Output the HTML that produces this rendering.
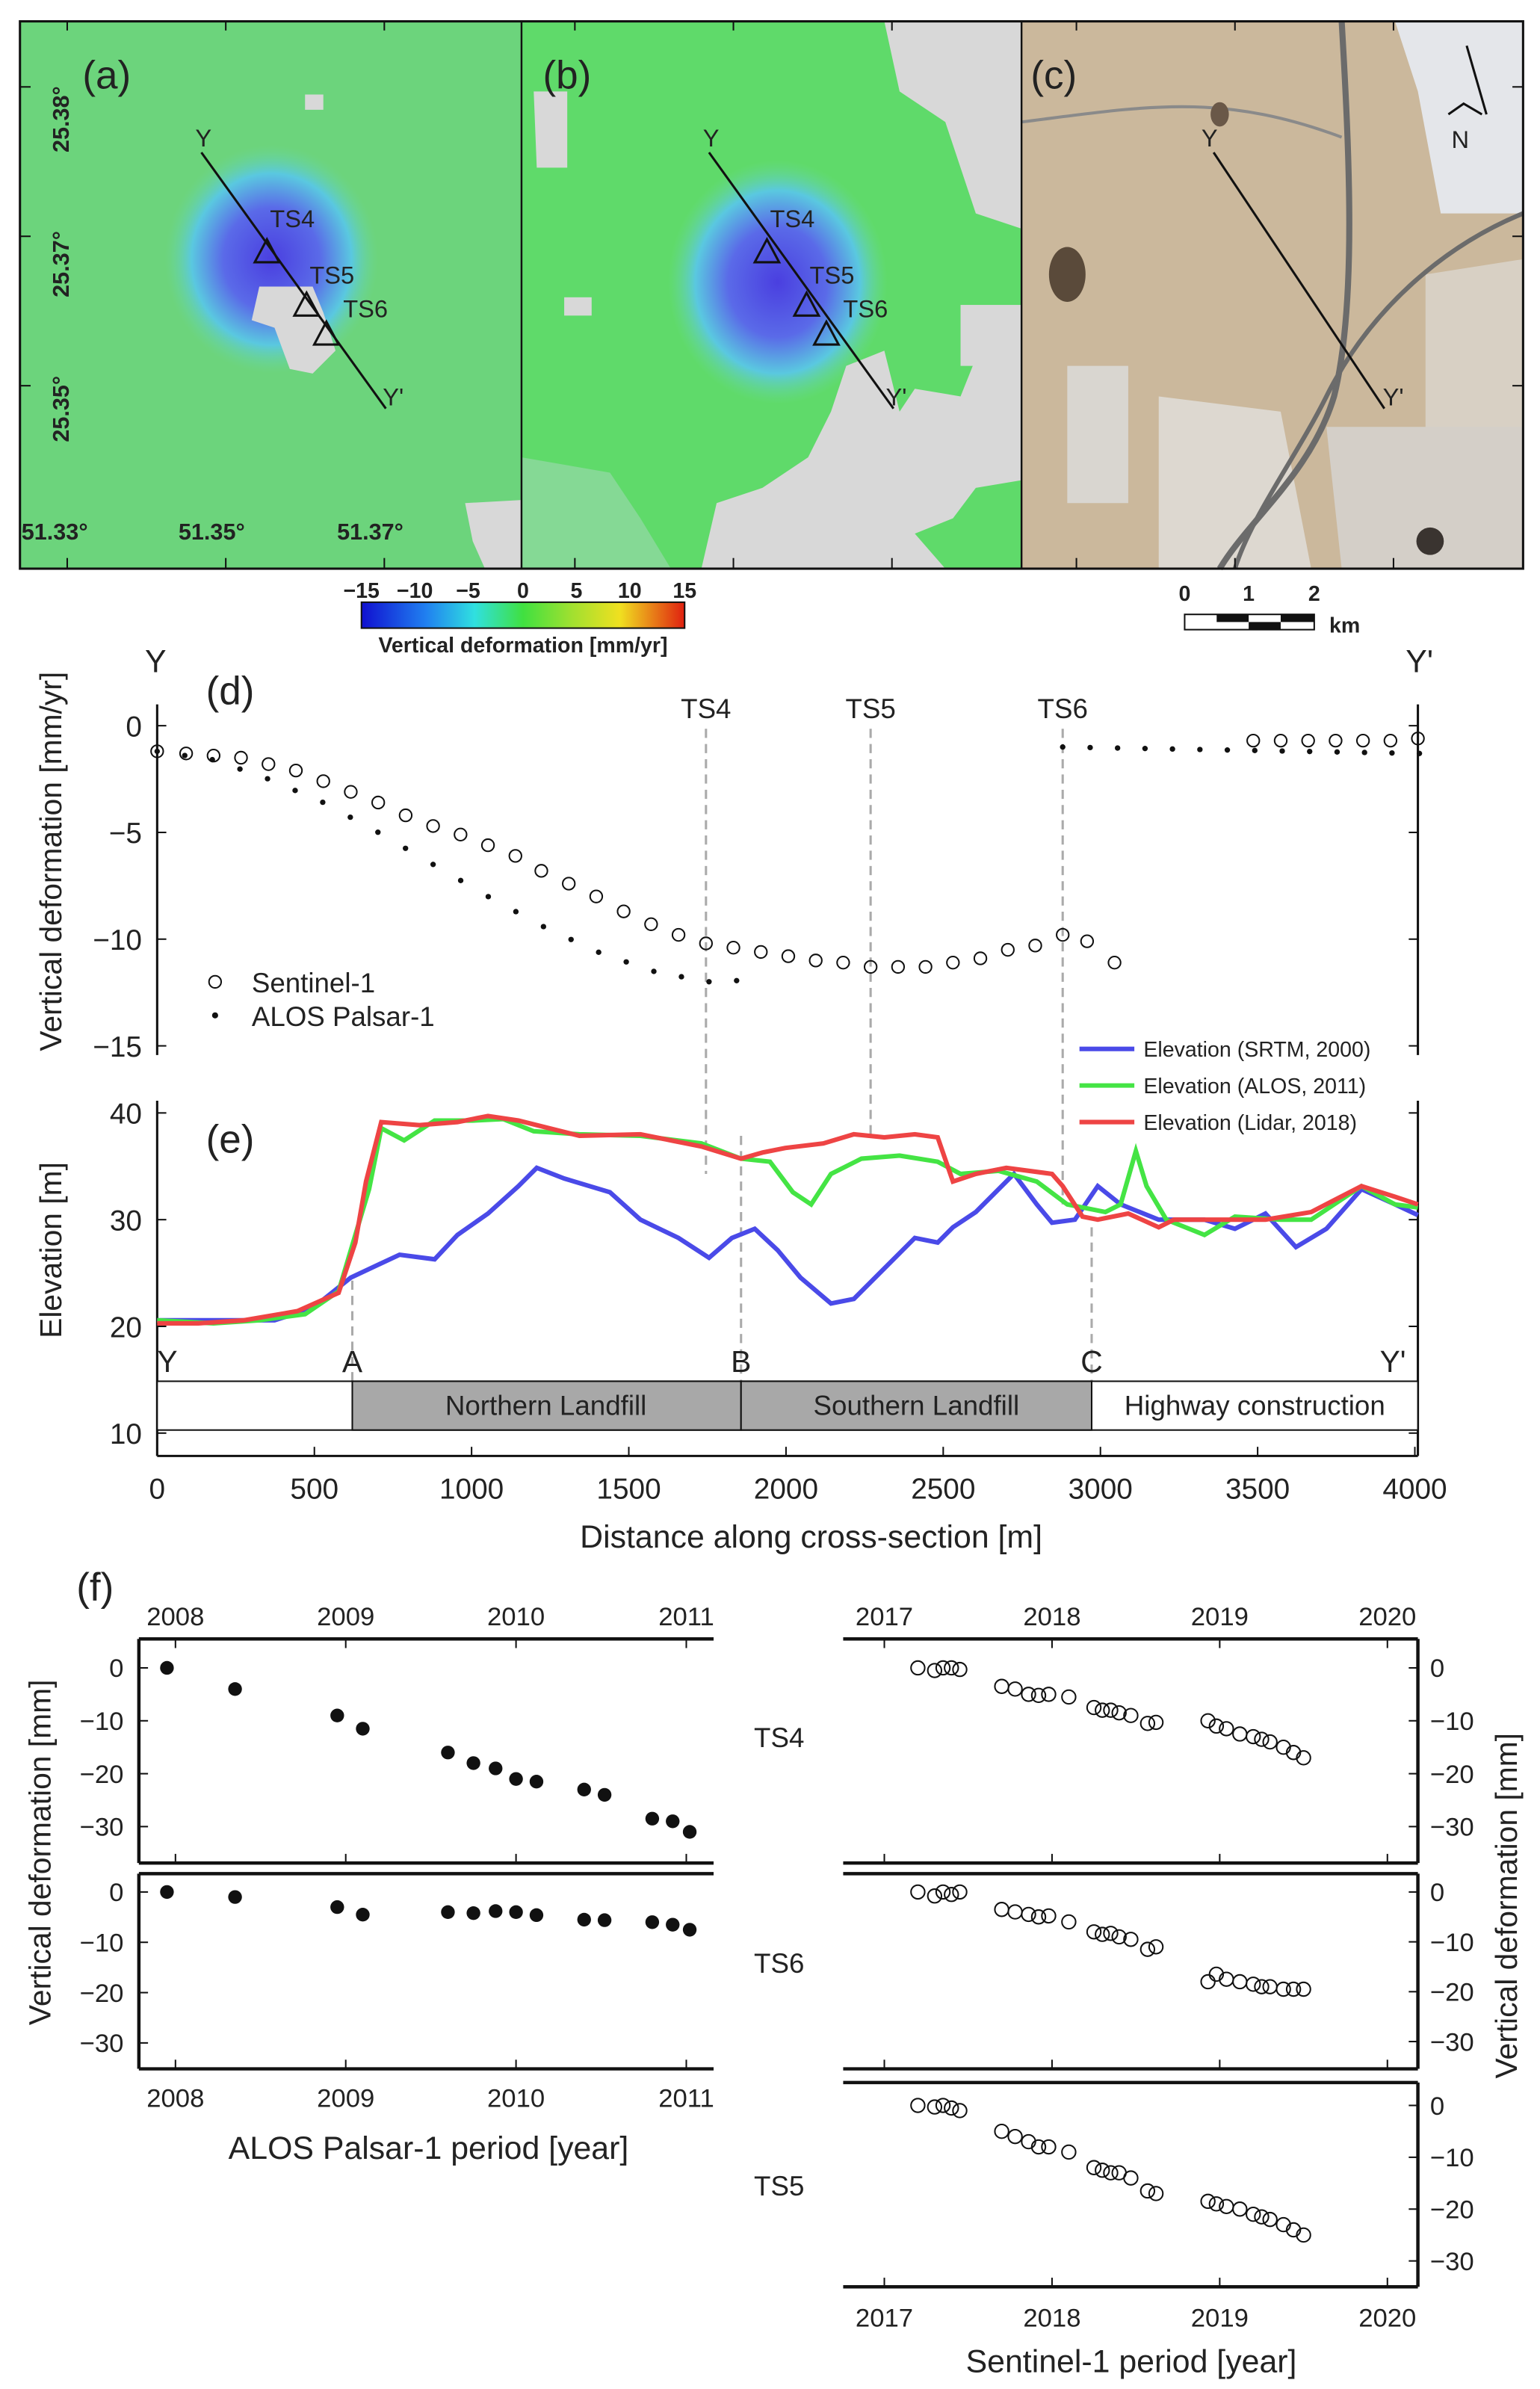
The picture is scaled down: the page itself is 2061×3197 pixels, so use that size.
<!DOCTYPE html>
<html><head><meta charset="utf-8"><style>
html,body{margin:0;padding:0;background:#fff}
svg{display:block}
text{font-family:"Liberation Sans",sans-serif;fill:#222}
</style></head><body>
<svg id="s" xmlns="http://www.w3.org/2000/svg" width="2061" height="3197" viewBox="0 0 1010 1567">
<defs>
<radialGradient id="blobA" cx="0.5" cy="0.5" r="0.5">
<stop offset="0" stop-color="#4a3fe0"/><stop offset="0.45" stop-color="#5a6ae8"/><stop offset="0.75" stop-color="#5ac8e0"/><stop offset="1" stop-color="#6ad89a" stop-opacity="0"/>
</radialGradient>
<linearGradient id="cb" x1="0" x2="1">
<stop offset="0" stop-color="#1010d0"/><stop offset="0.2" stop-color="#2080f0"/><stop offset="0.35" stop-color="#30e0e0"/><stop offset="0.5" stop-color="#40e040"/><stop offset="0.65" stop-color="#a0e030"/><stop offset="0.8" stop-color="#f0e020"/><stop offset="1" stop-color="#e02010"/>
</linearGradient>
</defs>
<!-- Map a -->
<rect x="13" y="14" width="329" height="359" fill="#6cd47c"/>
<ellipse cx="178" cy="170" rx="70" ry="75" fill="url(#blobA)"/>
<path d="M170 188 L205 188 L212 205 L220 230 L205 245 L190 242 L180 215 L165 210 Z" fill="#d8d8d8"/>
<rect x="200" y="62" width="12" height="10" fill="#d8d8d8"/>
<path d="M305 330 L342 328 L342 373 L318 373 L310 355 Z" fill="#d8d8d8"/>
<!-- Map b -->
<rect x="342" y="14" width="328" height="359" fill="#5fda6a"/>
<ellipse cx="510" cy="185" rx="72" ry="80" fill="url(#blobA)"/>
<path d="M580 14 L670 14 L670 150 L640 140 L620 80 L590 60 Z" fill="#d8d8d8"/>
<path d="M350 60 L372 60 L372 110 L352 110 Z" fill="#d8d8d8"/>
<path d="M555 240 L580 230 L590 270 L600 255 L630 260 L640 235 L670 230 L670 315 L640 320 L625 340 L600 350 L620 373 L460 373 L470 330 L500 320 L530 300 L545 270 Z" fill="#d8d8d8"/>
<path d="M342 300 L400 310 L420 340 L440 373 L342 373 Z" fill="#8fd8a0" opacity="0.8"/>
<rect x="370" y="195" width="18" height="12" fill="#d8d8d8"/>
<rect x="630" y="200" width="40" height="40" fill="#d8d8d8"/>
<!-- Map c -->
<rect x="670" y="14" width="329" height="359" fill="#cbb89c"/>
<path d="M915 14 L999 14 L999 140 L945 140 L930 60 Z" fill="#e4e6ea"/>
<path d="M935 180 L999 170 L999 300 L935 300 Z" fill="#d8d0c4"/>
<path d="M760 260 L840 270 L860 373 L760 373 Z" fill="#ddd8d0"/>
<path d="M870 280 L999 280 L999 373 L880 373 Z" fill="#d4cfc8"/>
<path d="M700 240 L740 240 L740 330 L700 330 Z" fill="#d9d6d0"/>
<path d="M880 14 C885 100 890 200 875 260 C860 310 820 340 800 373" stroke="#6b6b6b" stroke-width="4" fill="none"/>
<path d="M999 140 C950 160 900 200 870 260 C850 300 820 340 810 373" stroke="#6b6b6b" stroke-width="3" fill="none"/>
<path d="M670 80 C750 70 800 60 880 90" stroke="#8a8a8a" stroke-width="2" fill="none"/>
<ellipse cx="700" cy="180" rx="12" ry="18" fill="#5a4a3a"/>
<ellipse cx="938" cy="355" rx="9" ry="9" fill="#3a3430"/>
<ellipse cx="800" cy="75" rx="6" ry="8" fill="#6a5848"/>
<!-- borders -->
<rect x="13" y="14" width="986" height="359" fill="none" stroke="#111" stroke-width="1.5"/>
<line x1="342" y1="14" x2="342" y2="373" stroke="#111" stroke-width="1.2"/>
<line x1="670" y1="14" x2="670" y2="373" stroke="#111" stroke-width="1.2"/>
<g stroke="#111" stroke-width="1">
<line x1="13" y1="57" x2="20" y2="57"/><line x1="13" y1="155" x2="20" y2="155"/><line x1="13" y1="253" x2="20" y2="253"/>
<line x1="992" y1="57" x2="999" y2="57"/><line x1="992" y1="155" x2="999" y2="155"/><line x1="992" y1="253" x2="999" y2="253"/>
<line x1="44" y1="14" x2="44" y2="20"/><line x1="148" y1="14" x2="148" y2="20"/><line x1="252" y1="14" x2="252" y2="20"/>
<line x1="377" y1="14" x2="377" y2="20"/><line x1="481" y1="14" x2="481" y2="20"/><line x1="585" y1="14" x2="585" y2="20"/>
<line x1="44" y1="366" x2="44" y2="373"/><line x1="148" y1="366" x2="148" y2="373"/><line x1="252" y1="366" x2="252" y2="373"/>
<line x1="377" y1="366" x2="377" y2="373"/><line x1="481" y1="366" x2="481" y2="373"/><line x1="585" y1="366" x2="585" y2="373"/>
<line x1="706" y1="14" x2="706" y2="20"/><line x1="810" y1="14" x2="810" y2="20"/><line x1="914" y1="14" x2="914" y2="20"/>
<line x1="706" y1="366" x2="706" y2="373"/><line x1="810" y1="366" x2="810" y2="373"/><line x1="914" y1="366" x2="914" y2="373"/>
</g>
<g font-size="26"><text x="54" y="58">(a)</text><text x="356" y="58">(b)</text><text x="676" y="58">(c)</text></g>
<g font-size="15" font-weight="bold" fill="#111">
<text transform="translate(45,100) rotate(-90)">25.38°</text>
<text transform="translate(45,195) rotate(-90)">25.37°</text>
<text transform="translate(45,290) rotate(-90)">25.35°</text>
<text x="14" y="354">51.33°</text><text x="117" y="354">51.35°</text><text x="221" y="354">51.37°</text>
</g>
<g stroke="#111" stroke-width="1.5" fill="none">
<line x1="132" y1="100" x2="253" y2="268"/>
<line x1="465" y1="100" x2="586" y2="268"/>
<line x1="796" y1="100" x2="908" y2="268"/>
<path d="M175 157 L167 172 L183 172 Z"/><path d="M201 192 L193 207 L209 207 Z"/><path d="M214 211 L206 226 L222 226 Z"/>
<path d="M503 157 L495 172 L511 172 Z"/><path d="M529 192 L521 207 L537 207 Z"/><path d="M542 211 L534 226 L550 226 Z"/>
<path d="M962 30 L975 75 M950 75 L960 68 L972 75"/>
</g>
<g font-size="16">
<text x="128" y="96">Y</text><text x="251" y="266">Y'</text>
<text x="177" y="149">TS4</text><text x="203" y="186">TS5</text><text x="225" y="208">TS6</text>
<text x="461" y="96">Y</text><text x="581" y="266">Y'</text>
<text x="505" y="149">TS4</text><text x="531" y="186">TS5</text><text x="553" y="208">TS6</text>
<text x="788" y="96">Y</text><text x="907" y="266">Y'</text>
<text x="952" y="97">N</text>
</g>
<rect x="237" y="395" width="212" height="17" fill="url(#cb)" stroke="#111" stroke-width="1"/>
<g font-size="14" text-anchor="middle" font-weight="bold">
<text x="237" y="392">−15</text><text x="272" y="392">−10</text><text x="307" y="392">−5</text><text x="343" y="392">0</text><text x="378" y="392">5</text><text x="413" y="392">10</text><text x="449" y="392">15</text>
<text x="343" y="428">Vertical deformation [mm/yr]</text>
</g>
<rect x="777" y="403" width="85" height="10" fill="#fff" stroke="#111"/>
<rect x="798" y="403" width="21" height="5" fill="#111"/><rect x="819" y="408" width="21" height="5" fill="#111"/><rect x="840" y="403" width="22" height="5" fill="#111"/>
<g font-size="14" font-weight="bold" text-anchor="middle"><text x="777" y="394">0</text><text x="819" y="394">1</text><text x="862" y="394">2</text><text x="882" y="415">km</text></g>
<g id="de"></g>
<g id="f"></g>
</svg>
<script>
const NS="http://www.w3.org/2000/svg";
function el(p,t,a,txt){const e=document.createElementNS(NS,t);for(const k in a)e.setAttribute(k,a[k]);if(txt!==undefined)e.textContent=txt;p.appendChild(e);return e;}
const de=document.getElementById('de');
const X=m=>103+m*0.20625;
el(de,'line',{x1:103,y1:462,x2:103,y2:692,stroke:'#111','stroke-width':1.5});
el(de,'line',{x1:930,y1:462,x2:930,y2:692,stroke:'#111','stroke-width':1.5});
[0,-5,-10,-15].forEach(v=>{const y=476-v*14;el(de,'line',{x1:103,y1:y,x2:109,y2:y,stroke:'#111'});el(de,'line',{x1:924,y1:y,x2:930,y2:y,stroke:'#111'});el(de,'text',{x:93,y:y+7,'font-size':19,'text-anchor':'end'},v<0?'−'+(-v):'0');});
el(de,'text',{transform:'translate(40,565) rotate(-90)','font-size':20,'text-anchor':'middle'},'Vertical deformation [mm/yr]');
el(de,'text',{x:95,y:441,'font-size':21},'Y');el(de,'text',{x:922,y:441,'font-size':21},"Y'");
el(de,'text',{x:135,y:462,'font-size':26},'(d)');el(de,'text',{x:135,y:756,'font-size':26},'(e)');
const dash={stroke:'#aaa','stroke-width':1.5,'stroke-dasharray':'6,4'};
[[463,478,770,'TS4'],[571,478,745,'TS5'],[697,478,790,'TS6']].forEach(d=>{el(de,'line',Object.assign({x1:d[0],y1:d[1],x2:d[0],y2:d[2]},dash));el(de,'text',{x:d[0],y:471,'font-size':18,'text-anchor':'middle'},d[3]);});
[[231,840,'A'],[486,745,'B'],[716,805,'C']].forEach(d=>{el(de,'line',Object.assign({x1:d[0],y1:d[1],x2:d[0],y2:906},dash));el(de,'text',{x:d[0],y:900,'font-size':20,'text-anchor':'middle'},d[2]);});
el(de,'text',{x:103,y:900,'font-size':20},'Y');el(de,'text',{x:905,y:900,'font-size':20},"Y'");
const S=[[103,-1.2],[122,-1.3],[140,-1.4],[158,-1.5],[176,-1.8],[194,-2.1],[212,-2.6],[230,-3.1],[248,-3.6],[266,-4.2],[284,-4.7],[302,-5.1],[320,-5.6],[338,-6.1],[355,-6.8],[373,-7.4],[391,-8.0],[409,-8.7],[427,-9.3],[445,-9.8],[463,-10.2],[481,-10.4],[499,-10.6],[517,-10.8],[535,-11.0],[553,-11.1],[571,-11.3],[589,-11.3],[607,-11.3],[625,-11.1],[643,-10.9],[661,-10.5],[679,-10.3],[697,-9.8],[713,-10.1],[731,-11.1],[822,-0.7],[840,-0.7],[858,-0.7],[876,-0.7],[894,-0.7],[912,-0.7],[930,-0.6]];
S.forEach(p=>el(de,'circle',{cx:p[0],cy:476-p[1]*14,r:4,fill:'none',stroke:'#111','stroke-width':1}));
const A=[[103,-1.2],[140,-1.6],[176,-2.5],[212,-3.6],[248,-5.0],[284,-6.5],[320,-8.0],[356,-9.4],[392,-10.6],[428,-11.5],[464,-12.0],[498,-11.9]];
function interp(P,x){for(let i=0;i<P.length-1;i++){if(x>=P[i][0]&&x<=P[i+1][0]){const t=(x-P[i][0])/(P[i+1][0]-P[i][0]);return P[i][1]+t*(P[i+1][1]-P[i][1]);}}return P[P.length-1][1];}
for(let x=103;x<=500;x+=18.1)el(de,'circle',{cx:x,cy:476-interp(A,x)*14,r:1.8,fill:'#111'});
for(let x=697;x<=931;x+=18)el(de,'circle',{cx:x,cy:476+(1.0+0.3*(x-697)/233)*14,r:1.8,fill:'#111'});
el(de,'circle',{cx:141,cy:644,r:4,fill:'none',stroke:'#111'});el(de,'text',{x:165,y:651,'font-size':18},'Sentinel-1');
el(de,'circle',{cx:141,cy:666,r:2,fill:'#111'});el(de,'text',{x:165,y:673,'font-size':18},'ALOS Palsar-1');
[['#4a4ae8',688,'Elevation (SRTM, 2000)'],['#44e444',712,'Elevation (ALOS, 2011)'],['#ee4444',736,'Elevation (Lidar, 2018)']].forEach(l=>{el(de,'line',{x1:708,y1:l[1],x2:744,y2:l[1],stroke:l[0],'stroke-width':3});el(de,'text',{x:750,y:l[1]+5,'font-size':14},l[2]);});
el(de,'line',{x1:103,y1:722,x2:103,y2:955,stroke:'#111','stroke-width':1.5});
el(de,'line',{x1:930,y1:722,x2:930,y2:955,stroke:'#111','stroke-width':1.5});
el(de,'line',{x1:103,y1:955,x2:930,y2:955,stroke:'#111','stroke-width':1.5});
const EY=e=>870-(e-20)*7.0;
[40,30,20,10].forEach(v=>{const y=EY(v);el(de,'line',{x1:103,y1:y,x2:109,y2:y,stroke:'#111'});el(de,'line',{x1:924,y1:y,x2:930,y2:y,stroke:'#111'});el(de,'text',{x:93,y:y+7,'font-size':19,'text-anchor':'end'},v);});
el(de,'text',{transform:'translate(40,820) rotate(-90)','font-size':20,'text-anchor':'middle'},'Elevation [m]');
for(let m=0;m<=4000;m+=500){const x=X(m);el(de,'line',{x1:x,y1:949,x2:x,y2:955,stroke:'#111'});el(de,'text',{x:x,y:983,'font-size':19,'text-anchor':'middle'},m);}
el(de,'text',{x:532,y:1015,'font-size':21,'text-anchor':'middle'},'Distance along cross-section [m]');
el(de,'rect',{x:103,y:906,width:827,height:32,fill:'#fff',stroke:'#111'});
el(de,'rect',{x:231,y:906,width:255,height:32,fill:'#a8a8a8',stroke:'#111'});
el(de,'rect',{x:486,y:906,width:230,height:32,fill:'#a8a8a8',stroke:'#111'});
el(de,'text',{x:358,y:928,'font-size':18,'text-anchor':'middle'},'Northern Landfill');
el(de,'text',{x:601,y:928,'font-size':18,'text-anchor':'middle'},'Southern Landfill');
el(de,'text',{x:823,y:928,'font-size':18,'text-anchor':'middle'},'Highway construction');
const blue=[[103,866],[140,866],[180,866],[205,858],[230,838],[262,823],[285,826],[300,810],[320,796],[340,778],[352,766],[370,773],[400,782],[420,800],[445,812],[465,825],[480,812],[495,806],[510,820],[525,838],[545,855],[560,852],[580,832],[600,812],[615,815],[625,805],[640,795],[665,770],[680,790],[690,802],[705,800],[720,778],[735,790],[760,800],[790,800],[810,806],[830,796],[850,818],[870,806],[893,780],[915,790],[930,797]];
const red=[[103,868],[130,868],[160,866],[195,860],[222,848],[233,815],[240,775],[250,736],[275,738],[300,736],[320,732],[340,735],[360,740],[380,745],[420,744],[440,748],[460,752],[486,760],[500,756],[515,753],[540,750],[560,744],[580,746],[600,744],[615,746],[625,775],[640,770],[660,766],[690,770],[697,778],[710,798],[720,800],[740,796],[760,805],[770,800],[800,800],[830,800],[860,795],[893,778],[915,785],[930,790]];
const green=[[103,866],[140,868],[170,866],[200,862],[222,847],[233,810],[242,780],[250,740],[265,748],[285,735],[310,735],[330,734],[350,742],[380,744],[420,745],[460,750],[486,760],[505,762],[520,782],[532,790],[545,770],[565,760],[590,758],[615,762],[630,770],[655,768],[680,775],[700,790],[725,795],[735,790],[745,755],[752,778],[765,800],[790,810],[810,798],[840,800],[860,800],[893,778],[915,790],[930,792]];
[[blue,'#4a4ae8'],[green,'#44e444'],[red,'#ee4444']].forEach(l=>el(de,'polyline',{points:l[0].map(p=>p.join(',')).join(' '),fill:'none',stroke:l[1],'stroke-width':3}));
// panel f
const f=document.getElementById('f');
el(f,'text',{x:50,y:1050,'font-size':26},'(f)');
const AX={stroke:'#111','stroke-width':2.2};
function L(x1,y1,x2,y2){el(f,'line',Object.assign({x1,y1,x2,y2},AX));}
// left plot: left axis, top/bottom of each subplot
L(91,1075,91,1222);L(91,1229,91,1357);
L(91,1075,468,1075);L(91,1222,468,1222);L(91,1229,468,1229);L(91,1357,468,1357);
// right plot: right axis
L(930,1075,930,1222);L(930,1229,930,1357);L(930,1366,930,1500);
L(553,1075,930,1075);L(553,1222,930,1222);L(553,1229,930,1229);L(553,1357,930,1357);L(553,1366,930,1366);L(553,1500,930,1500);
const LX=y=>115+(y-2008)*111.7, RX=y=>580+(y-2017)*110;
function yticks(x,side,y0,s){[0,-10,-20,-30].forEach(v=>{const y=y0-v*s;el(f,'line',{x1:side?x-6:x,y1:y,x2:side?x:x+6,y2:y,stroke:'#111'});el(f,'text',{x:side?x+8:x-10,y:y+6,'font-size':17,'text-anchor':side?'start':'end'},v<0?'−'+(-v):'0');});}
yticks(91,0,1094,3.47);yticks(91,0,1241,3.3);
yticks(930,1,1094,3.47);yticks(930,1,1241,3.27);yticks(930,1,1381,3.4);
[2008,2009,2010,2011].forEach(y=>{const x=LX(y);el(f,'text',{x:x,y:1066,'font-size':17,'text-anchor':'middle'},y);el(f,'text',{x:x,y:1382,'font-size':17,'text-anchor':'middle'},y);el(f,'line',{x1:x,y1:1075,x2:x,y2:1081,stroke:'#111'});el(f,'line',{x1:x,y1:1351,x2:x,y2:1357,stroke:'#111'});el(f,'line',{x1:x,y1:1216,x2:x,y2:1222,stroke:'#111'});});
[2017,2018,2019,2020].forEach(y=>{const x=RX(y);el(f,'text',{x:x,y:1066,'font-size':17,'text-anchor':'middle'},y);el(f,'text',{x:x,y:1526,'font-size':17,'text-anchor':'middle'},y);el(f,'line',{x1:x,y1:1075,x2:x,y2:1081,stroke:'#111'});el(f,'line',{x1:x,y1:1494,x2:x,y2:1500,stroke:'#111'});el(f,'line',{x1:x,y1:1216,x2:x,y2:1222,stroke:'#111'});el(f,'line',{x1:x,y1:1351,x2:x,y2:1357,stroke:'#111'});});
el(f,'text',{transform:'translate(33,1215) rotate(-90)','font-size':20,'text-anchor':'middle'},'Vertical deformation [mm]');
el(f,'text',{transform:'translate(995,1250) rotate(-90)','font-size':20,'text-anchor':'middle'},'Vertical deformation [mm]');
el(f,'text',{x:281,y:1416,'font-size':21,'text-anchor':'middle'},'ALOS Palsar-1 period [year]');
el(f,'text',{x:742,y:1556,'font-size':21,'text-anchor':'middle'},'Sentinel-1 period [year]');
el(f,'text',{x:511,y:1146,'font-size':18,'text-anchor':'middle'},'TS4');
el(f,'text',{x:511,y:1294,'font-size':18,'text-anchor':'middle'},'TS6');
el(f,'text',{x:511,y:1440,'font-size':18,'text-anchor':'middle'},'TS5');
const ly=[2007.95,2008.35,2008.95,2009.1,2009.6,2009.75,2009.88,2010.0,2010.12,2010.4,2010.52,2010.8,2010.92,2011.02];
const l4=[0,-4,-9,-11.5,-16,-18,-19,-21,-21.5,-23,-24,-28.5,-29,-31];
const l6=[0,-1,-3,-4.5,-4,-4.2,-3.8,-4,-4.6,-5.5,-5.6,-6,-6.5,-7.5];
ly.forEach((y,i)=>{el(f,'circle',{cx:LX(y),cy:1094-l4[i]*3.47,r:4.5,fill:'#111'});el(f,'circle',{cx:LX(y),cy:1241-l6[i]*3.3,r:4.5,fill:'#111'});});
const ry=[2017.2,2017.3,2017.35,2017.4,2017.45,2017.7,2017.78,2017.86,2017.92,2017.98,2018.1,2018.25,2018.3,2018.35,2018.4,2018.47,2018.57,2018.62,2018.93,2018.98,2019.04,2019.12,2019.2,2019.25,2019.3,2019.38,2019.44,2019.5];
const r4=[0,-0.5,0,0,-0.3,-3.5,-4,-5,-5.2,-5,-5.5,-7.5,-8,-8,-8.5,-9,-10.5,-10.3,-10,-11,-11.5,-12.5,-13,-13.5,-14,-15,-16,-17];
const r6=[0,-0.8,0,-0.5,0,-3.5,-4,-4.5,-5,-4.8,-6,-8,-8.5,-8.3,-9,-9.5,-11.5,-11,-18,-16.5,-17.5,-18,-18.5,-19,-19,-19.5,-19.5,-19.5];
const r5=[0,-0.3,0,-0.5,-1,-5,-6,-7,-8,-8,-9,-12,-12.5,-13,-13,-14,-16.5,-17,-18.5,-19,-19.5,-20,-21,-21.5,-22,-23,-24,-25];
ry.forEach((y,i)=>{el(f,'circle',{cx:RX(y),cy:1094-r4[i]*3.47,r:4.5,fill:'none',stroke:'#111'});el(f,'circle',{cx:RX(y),cy:1241-r6[i]*3.27,r:4.5,fill:'none',stroke:'#111'});el(f,'circle',{cx:RX(y),cy:1381-r5[i]*3.4,r:4.5,fill:'none',stroke:'#111'});});
</script>
</body></html>
